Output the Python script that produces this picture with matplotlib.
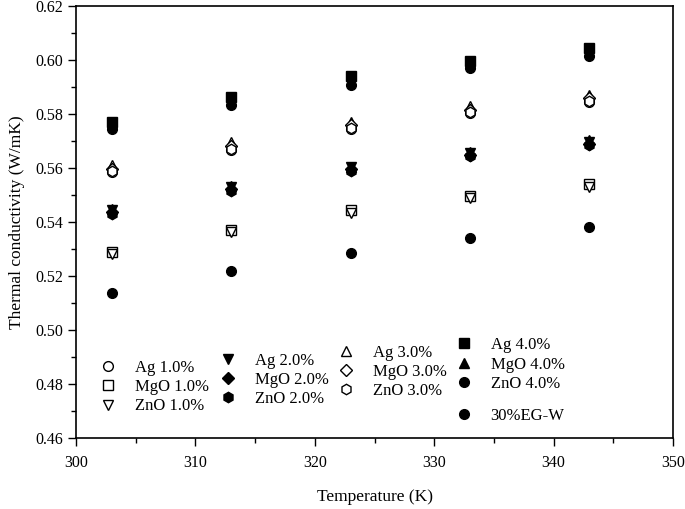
import matplotlib
matplotlib.use("Agg")
import matplotlib.pyplot as plt
from matplotlib.ticker import MultipleLocator, FormatStrFormatter

plt.rcParams['font.family'] = ['Liberation Serif', 'DejaVu Serif']

# Datos
temps = [303, 313, 323, 333, 343]
ag1 = [0.5585, 0.5665, 0.5745, 0.5805, 0.5845]
mgo1 = [0.5290, 0.5372, 0.5445, 0.5498, 0.5540]
zno1 = [0.5280, 0.5362, 0.5435, 0.5488, 0.5530]
ag2 = [0.5445, 0.5530, 0.5602, 0.5655, 0.5695]
mgo2 = [0.5437, 0.5522, 0.5595, 0.5648, 0.5690]
zno2 = [0.5428, 0.5515, 0.5588, 0.5643, 0.5685]
ag3 = [0.5610, 0.5695, 0.5772, 0.5828, 0.5872]
mgo3 = [0.5598, 0.5682, 0.5758, 0.5815, 0.5858]
zno3 = [0.5590, 0.5672, 0.5748, 0.5806, 0.5848]
ag4 = [0.5772, 0.5862, 0.5940, 0.5998, 0.6045]
mgo4 = [0.5448, 0.5533, 0.5604, 0.5658, 0.5702]
zno4 = [0.5745, 0.5835, 0.5908, 0.5970, 0.6013]
egw = [0.5137, 0.5218, 0.5287, 0.5340, 0.5380]

# (etiqueta, datos, marcador, relleno, tamaño)
series = [
    ("Ag 1.0%", ag1, 'o', 'white', 7),
    ("MgO 1.0%", mgo1, 's', 'white', 7),
    ("ZnO 1.0%", zno1, 'v', 'white', 7.5),
    ("Ag 2.0%", ag2, 'v', 'black', 7.5),
    ("MgO 2.0%", mgo2, 'D', 'black', 6),
    ("ZnO 2.0%", zno2, 'h', 'black', 7.5),
    ("Ag 3.0%", ag3, '^', 'white', 7.5),
    ("MgO 3.0%", mgo3, 'D', 'white', 6),
    ("ZnO 3.0%", zno3, 'h', 'white', 7.5),
    ("Ag 4.0%", ag4, 's', 'black', 7),
    ("MgO 4.0%", mgo4, '^', 'black', 7.5),
    ("ZnO 4.0%", zno4, 'o', 'black', 7),
    ("30%EG-W", egw, 'o', 'black', 7),
]

fig = plt.figure(figsize=(6.85, 5.09), dpi=100)
ax = fig.add_axes([0.111, 0.1395, 0.8715, 0.8487])

handles = []
for label, vals, m, fc, ms in series:
    h, = ax.plot(temps, vals, linestyle='none', marker=m, markersize=ms,
                 markerfacecolor=fc, markeredgecolor='black', markeredgewidth=1.0,
                 label=label)
    handles.append(h)

ax.set_xlim(300, 350)
ax.set_ylim(0.46, 0.62)
ax.xaxis.set_major_locator(MultipleLocator(10))
ax.xaxis.set_minor_locator(MultipleLocator(5))
ax.yaxis.set_major_locator(MultipleLocator(0.02))
ax.yaxis.set_minor_locator(MultipleLocator(0.01))
ax.yaxis.set_major_formatter(FormatStrFormatter('%.2f'))
ax.tick_params(which='major', direction='out', length=6, width=1, labelsize=11.5)
ax.tick_params(which='minor', direction='out', length=3.5, width=1)
ax.tick_params(axis='x', which='major', pad=6)
ax.tick_params(axis='y', which='major', pad=3)
for s in ax.spines.values():
    s.set_linewidth(1.2)

ax.set_xlabel("Temperature (K)", fontsize=12.5, labelpad=13)
ax.set_ylabel("Thermal conductivity (W/mK)", fontsize=12.5, labelpad=8)

# Leyendas separadas en columnas escalonadas
grupos = [(handles[0:3], 0.0394, 0.1180),
          (handles[3:6], 0.2404, 0.1345),
          (handles[6:9], 0.438, 0.1530),
          (handles[9:12], 0.6357, 0.1700),
          (handles[12:13], 0.6357, 0.0520)]
for i, (hs, x0, y0) in enumerate(grupos):
    leg = ax.legend(handles=hs, loc='center left', bbox_to_anchor=(x0, y0),
                    frameon=False, fontsize=12, handlelength=1.0,
                    handletextpad=1.1, labelspacing=0.2, borderpad=0,
                    borderaxespad=0)
    if i < len(grupos) - 1:
        ax.add_artist(leg)

fig.savefig("out.png", dpi=100)
